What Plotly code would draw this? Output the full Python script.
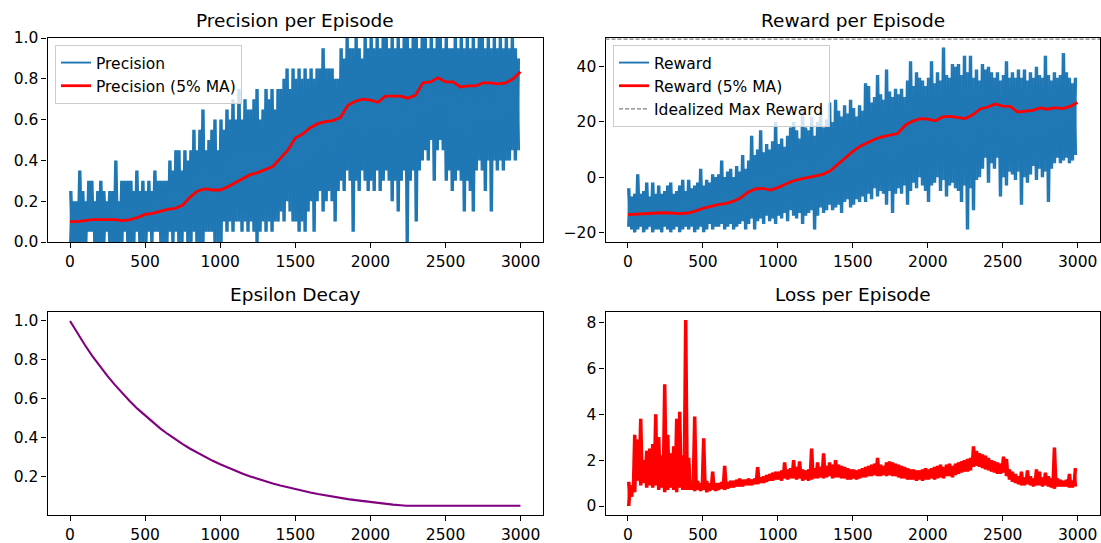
import numpy as np
import plotly.graph_objects as go

# ---------------- data ----------------
BIN = 20  # episodes per bin; each bin gives the low and high value seen in it

precision_lo = [
    0.0, 0.0, 0.0, 0.0, 0.0, 0.0, 0.05, 0.05, 0.0, 0.0,
    0.0, 0.0, 0.05, 0.0, 0.0, 0.0, 0.0, 0.0, 0.05, 0.0,
    0.0, 0.0, 0.05, 0.0, 0.0, 0.0, 0.05, 0.0, 0.05, 0.05,
    0.0, 0.0, 0.0, 0.05, 0.0, 0.05, 0.0, 0.0, 0.05, 0.0,
    0.0, 0.05, 0.0, 0.0, 0.0, 0.05, 0.05, 0.05, 0.0, 0.0,
    0.0, 0.1, 0.05, 0.1, 0.05, 0.1, 0.1, 0.05, 0.1, 0.05,
    0.1, 0.05, 0.0, 0.05, 0.1, 0.05, 0.1, 0.05, 0.1, 0.1,
    0.15, 0.1, 0.2, 0.15, 0.1, 0.1, 0.05, 0.1, 0.05, 0.15,
    0.2, 0.05, 0.2, 0.25, 0.15, 0.2, 0.25, 0.2, 0.1, 0.25,
    0.3, 0.25, 0.35, 0.3, 0.05, 0.3, 0.25, 0.35, 0.3, 0.25,
    0.3, 0.25, 0.35, 0.25, 0.3, 0.35, 0.3, 0.2, 0.3, 0.15,
    0.3, 0.35, 0.0, 0.3, 0.35, 0.1, 0.35, 0.4, 0.45, 0.4,
    0.5, 0.3, 0.45, 0.5, 0.45, 0.3, 0.35, 0.25, 0.3, 0.35,
    0.3, 0.15, 0.3, 0.25, 0.15, 0.35, 0.4, 0.35, 0.25, 0.4,
    0.15, 0.4, 0.35, 0.4, 0.35, 0.4, 0.4, 0.45, 0.4, 0.45,
]
precision_hi = [
    0.25, 0.2, 0.2, 0.35, 0.25, 0.2, 0.3, 0.3, 0.2, 0.25,
    0.3, 0.25, 0.2, 0.25, 0.25, 0.4, 0.2, 0.3, 0.3, 0.3,
    0.3, 0.25, 0.35, 0.25, 0.3, 0.25, 0.3, 0.25, 0.35, 0.3,
    0.3, 0.3, 0.3, 0.4, 0.35, 0.45, 0.45, 0.35, 0.45, 0.4,
    0.45, 0.55, 0.45, 0.55, 0.65, 0.45, 0.5, 0.55, 0.6, 0.45,
    0.6, 0.55, 0.65, 0.6, 0.7, 0.6, 0.75, 0.6, 0.7, 0.65,
    0.65, 0.7, 0.75, 0.6, 0.65, 0.75, 0.7, 0.75, 0.65, 0.75,
    0.75, 0.8, 0.85, 0.75, 0.85, 0.8, 0.85, 0.8, 0.85, 0.8,
    0.85, 0.8, 0.85, 0.85, 0.95, 0.85, 0.85, 0.85, 0.8, 0.8,
    0.95, 0.9, 1.0, 0.95, 0.95, 1.0, 0.95, 0.9, 1.0, 0.95,
    1.0, 0.95, 1.0, 0.95, 1.0, 1.0, 0.95, 1.0, 0.95, 1.0,
    0.95, 1.0, 1.0, 0.95, 1.0, 1.0, 0.95, 1.0, 1.0, 0.95,
    1.0, 0.95, 1.0, 1.0, 0.95, 1.0, 0.95, 0.95, 1.0, 0.95,
    1.0, 0.95, 1.0, 0.95, 1.0, 0.95, 1.0, 1.0, 0.95, 1.0,
    0.95, 1.0, 0.95, 1.0, 0.95, 1.0, 0.95, 1.0, 0.95, 0.9,
]

reward_lo = [
    -18, -19, -20, -19, -18, -20, -19, -18, -20, -19,
    -19, -20, -18, -19, -20, -19, -18, -20, -19, -18,
    -19, -18, -20, -19, -18, -20, -19, -17, -19, -18,
    -18, -17, -19, -18, -17, -19, -18, -17, -16, -19,
    -17, -15, -19, -16, -15, -17, -14, -16, -15, -17,
    -14, -15, -13, -16, -12, -14, -15, -13, -17, -14,
    -13, -12, -19, -14, -11, -13, -12, -10, -12, -11,
    -10, -13, -9, -8, -11, -10, -8, -9, -7, -9,
    -6, -8, -4, -7, -5, -6, -10, -5, -13, -6,
    -4, -6, -3, -10, -5, -2, -4, 0, -3, -5,
    -9, -3, -2, 0, -5, -1, -7, -3, -2, -4,
    -5, -9, -3, -19, -4, -12, -1, 0, 3, 7,
    -2, 5, 3, 7, -7, 0, -3, 2, 1, -1,
    2, -10, 0, -2, 1, 4, -1, 3, 0, 2,
    -9, 3, 5, 7, 5, 6, 7, 5, 6, 8,
]
reward_hi = [
    -4, -7, -6, 1, -6, -5, -2, -7, -2, -6,
    -3, -6, -5, -3, -2, -6, -5, -3, -1, -5,
    -1, -4, -3, -2, 3, -3, -1, -2, 1, 0,
    1, 6, 0, 2, 3, 0, 4, 2, 8, 3,
    6, 15, 8, 10, 17, 9, 12, 10, 13, 20,
    12, 14, 11, 15, 18, 20, 17, 14, 24, 18,
    17, 22, 15, 20, 25, 18, 21, 27, 20, 28,
    24, 22, 26, 23, 28, 25, 22, 26, 24, 34,
    33, 27, 29, 37, 30, 28, 39, 31, 29, 32,
    30, 32, 29, 35, 42, 33, 38, 36, 35, 33,
    36, 42, 34, 38, 35, 47, 37, 36, 41, 40,
    41, 37, 44, 38, 44, 36, 39, 35, 41, 39,
    40, 38, 36, 38, 35, 37, 42, 36, 38, 36,
    39, 36, 39, 35, 38, 36, 40, 37, 36, 44,
    37, 35, 38, 36, 37, 45, 38, 36, 34, 36,
]

loss_lo = [
    0.0, 0.4, 0.6, 1.1, 0.9, 1.0, 0.8, 0.9, 0.8, 0.9,
    0.7, 0.8, 0.6, 0.7, 0.8, 0.7, 0.6, 0.8, 0.7, 0.7,
    0.7, 0.7, 0.65, 0.7, 0.65, 0.7, 0.6, 0.65, 0.7, 0.65,
    0.7, 0.75, 0.7, 0.75, 0.8, 0.8, 0.85, 0.85, 0.85, 0.9,
    0.9, 0.9, 0.95, 0.95, 1.0, 1.0, 1.05, 1.1, 1.1, 1.15,
    1.15, 1.1, 1.2, 1.15, 1.2, 1.2, 1.15, 1.2, 1.1, 1.15,
    1.1, 1.15, 1.2, 1.2, 1.25, 1.2, 1.25, 1.3, 1.2, 1.25,
    1.25, 1.2, 1.2, 1.15, 1.15, 1.2, 1.15, 1.2, 1.25, 1.25,
    1.3, 1.3, 1.35, 1.3, 1.3, 1.35, 1.3, 1.35, 1.3, 1.3,
    1.25, 1.2, 1.2, 1.15, 1.15, 1.15, 1.1, 1.15, 1.1, 1.15,
    1.15, 1.2, 1.15, 1.2, 1.25, 1.2, 1.3, 1.3, 1.25, 1.35,
    1.4, 1.45, 1.5, 1.5, 1.55, 1.7, 1.75, 1.7, 1.65, 1.6,
    1.55, 1.5, 1.45, 1.4, 1.4, 1.45, 1.3, 1.15, 1.05, 1.0,
    0.95, 0.9, 0.9, 0.95, 0.9, 0.85, 0.9, 0.9, 0.85, 0.9,
    0.85, 0.8, 0.75, 0.85, 0.85, 0.85, 0.85, 0.8, 0.8, 0.85,
]
loss_hi = [
    1.05, 0.9, 3.1, 2.9, 3.8, 2.0, 2.4, 2.5, 2.7, 4.0,
    3.0, 2.2, 5.3, 3.1, 2.3, 2.6, 3.8, 4.1, 2.2, 8.1,
    2.1, 1.1, 3.9, 1.1, 1.0, 2.95, 1.1, 1.0, 1.5, 1.0,
    1.0, 1.05, 1.75, 1.05, 1.1, 1.1, 1.15, 1.2, 1.15, 1.15,
    1.2, 1.15, 1.2, 1.7, 1.25, 1.3, 1.35, 1.4, 1.45, 1.5,
    1.5, 1.55, 1.9, 1.6, 1.65, 2.0, 1.7, 1.95, 1.6, 1.55,
    1.6, 2.5, 1.65, 1.9, 1.7, 2.3, 1.75, 1.9, 1.8, 2.0,
    1.8, 1.75, 1.7, 1.65, 1.6, 1.6, 1.55, 1.6, 1.65, 1.7,
    1.75, 1.8, 1.85, 2.1, 1.8, 1.75, 1.9, 1.95, 1.9, 1.85,
    1.8, 1.75, 1.7, 1.65, 1.6, 1.6, 1.55, 1.55, 1.6, 1.65,
    1.6, 1.65, 1.7, 1.75, 1.8, 1.7, 1.8, 1.85, 1.75, 1.85,
    1.9, 1.95, 2.0, 2.05, 2.1, 2.6, 2.4, 2.3, 2.25, 2.2,
    2.1, 2.0, 1.95, 1.9, 1.85, 2.15, 2.05, 1.6, 1.5, 1.4,
    1.3, 1.5, 1.25, 1.55, 1.3, 1.2, 1.6, 1.5, 1.25, 1.45,
    1.3, 1.2, 2.55, 1.2, 1.15, 1.1, 1.15, 1.4, 1.1, 1.65,
]

# 5% moving averages, read every 50 episodes
ma_episodes = list(range(0, 3000, 50)) + [2999]
precision_ma = [
    0.10, 0.10, 0.105, 0.11, 0.11, 0.11, 0.11, 0.105, 0.11, 0.12,
    0.135, 0.14, 0.15, 0.16, 0.165, 0.18, 0.22, 0.25, 0.26, 0.255,
    0.255, 0.27, 0.29, 0.31, 0.33, 0.34, 0.355, 0.37, 0.41, 0.45,
    0.51, 0.53, 0.56, 0.58, 0.59, 0.595, 0.61, 0.67, 0.69, 0.70,
    0.695, 0.685, 0.715, 0.715, 0.715, 0.705, 0.72, 0.78, 0.785, 0.805,
    0.785, 0.785, 0.76, 0.765, 0.765, 0.78, 0.78, 0.775, 0.78, 0.80,
    0.835,
]
reward_ma = [
    -13.6, -13.4, -13.2, -13.0, -13.0, -12.9, -13.0, -13.2, -13.0, -12.3,
    -11.3, -10.6, -10.0, -9.6, -8.8, -7.6, -5.5, -4.3, -4.1, -4.7,
    -3.8, -2.6, -1.4, -0.7, -0.1, 0.3, 1.0, 2.3, 4.6, 6.8,
    9.3, 11.2, 12.6, 13.8, 14.7, 15.2, 15.8, 18.8, 20.3, 21.2,
    21.0, 20.4, 21.8, 22.0, 21.7, 21.2, 22.6, 24.7, 25.4, 26.5,
    25.7, 25.6, 23.6, 23.9, 24.2, 25.1, 24.6, 25.2, 24.8, 25.6,
    27.0,
]
MAX_REWARD = 50

epsilon_episodes = list(range(0, 2250, 50)) + [2240, 2999]
epsilon_episodes = sorted(set(epsilon_episodes))
epsilon_values = [
    1.000, 0.935, 0.875, 0.818, 0.765, 0.716, 0.670, 0.626, 0.586, 0.548,
    0.513, 0.479, 0.448, 0.419, 0.392, 0.367, 0.343, 0.321, 0.300, 0.281,
    0.263, 0.246, 0.230, 0.215, 0.201, 0.188, 0.176, 0.165, 0.154, 0.144,
    0.135, 0.126, 0.118, 0.110, 0.103, 0.096, 0.090, 0.084, 0.079, 0.074,
    0.069, 0.065, 0.060, 0.056, 0.053, 0.050, 0.050,
]

x_ticks = [0, 500, 1000, 1500, 2000, 2500, 3000]
prec_ticks = [0.0, 0.2, 0.4, 0.6, 0.8, 1.0]
reward_ticks = [-20, 0, 20, 40]
reward_tick_labels = ["\u221220", "0", "20", "40"]
eps_ticks = [0.2, 0.4, 0.6, 0.8, 1.0]
loss_ticks = [0, 2, 4, 6, 8]

# ---------------- figure ----------------
W, H = 1101, 543
FONT = "DejaVu Sans"
TXT = "#000000"
BLUE = "#1f77b4"
TICK_SIZE = 15.5
TITLE_SIZE = 18.5


def band(lo, hi):
    """Per-bin low/high values, drawn as two crossing zig-zags."""
    start = np.arange(len(lo)) * BIN
    xs = np.column_stack([start, start + BIN / 2]).ravel()
    ys_a = np.column_stack([lo, hi]).ravel()
    ys_b = np.column_stack([hi, lo]).ravel()
    return xs, ys_a, ys_b


def dom_x(a, b):
    return [a / W, b / W]


def dom_y(top, bottom):
    return [1 - bottom / H, 1 - top / H]


boxes = {
    1: (47.5, 543.0, 38.0, 242.0),
    2: (605.5, 1100.0, 38.0, 242.0),
    3: (47.5, 543.0, 311.7, 515.0),
    4: (605.5, 1100.0, 311.7, 515.0),
}

fig = go.Figure()


def add_band(lo, hi, name, color, width, xa, ya, legend=None):
    xs, ya_, yb_ = band(lo, hi)
    fig.add_trace(go.Scatter(x=xs, y=yb_, mode="lines", showlegend=False,
                             line=dict(color=color, width=width),
                             xaxis=xa, yaxis=ya, hoverinfo="skip"))
    kw = dict(name=name, legend=legend) if legend else dict(showlegend=False)
    fig.add_trace(go.Scatter(x=xs, y=ya_, mode="lines",
                             line=dict(color=color, width=width),
                             xaxis=xa, yaxis=ya, **kw))


add_band(precision_lo, precision_hi, "Precision", BLUE, 1.9, "x", "y", "legend")
fig.add_trace(go.Scatter(x=ma_episodes, y=precision_ma, mode="lines",
                         name="Precision (5% MA)",
                         line=dict(color="red", width=2.8),
                         xaxis="x", yaxis="y", legend="legend"))

add_band(reward_lo, reward_hi, "Reward", BLUE, 1.9, "x2", "y2", "legend2")
fig.add_trace(go.Scatter(x=ma_episodes, y=reward_ma, mode="lines",
                         name="Reward (5% MA)",
                         line=dict(color="red", width=2.8),
                         xaxis="x2", yaxis="y2", legend="legend2"))
fig.add_trace(go.Scatter(x=[None], y=[None], mode="lines",
                         name="Idealized Max Reward",
                         line=dict(color="gray", width=1.2, dash="4px,2px"),
                         xaxis="x2", yaxis="y2", legend="legend2"))
fig.add_shape(type="line", xref="x2 domain", x0=0, x1=1,
              yref="y2", y0=MAX_REWARD, y1=MAX_REWARD,
              line=dict(color="gray", width=1.2, dash="4px,2px"))

fig.add_trace(go.Scatter(x=epsilon_episodes, y=epsilon_values, mode="lines",
                         line=dict(color="#800080", width=2.1),
                         xaxis="x3", yaxis="y3", showlegend=False))

add_band(loss_lo, loss_hi, None, "red", 2.0, "x4", "y4")

axis_common = dict(showgrid=False, zeroline=False, showline=True, mirror=True,
                   linecolor="black", linewidth=1.1, ticks="outside", ticklen=5,
                   tickwidth=1.1, tickcolor="black",
                   tickfont=dict(family=FONT, size=TICK_SIZE, color=TXT))

yranges = {1: [0, 1], 2: [-23.5, 50.4], 3: [0.0025, 1.0475], 4: [-0.39, 8.46]}
yticks = {1: (prec_ticks, [f"{v:.1f}" for v in prec_ticks]),
          2: (reward_ticks, reward_tick_labels),
          3: (eps_ticks, [f"{v:.1f}" for v in eps_ticks]),
          4: (loss_ticks, [str(v) for v in loss_ticks])}

layout = dict(width=W, height=H, margin=dict(l=0, r=0, t=0, b=0, pad=0,
                                              autoexpand=False),
              paper_bgcolor="white", plot_bgcolor="white",
              font=dict(family=FONT, color=TXT), showlegend=True)

for i, (x0, x1, yt, yb) in boxes.items():
    sx = "" if i == 1 else str(i)
    layout["xaxis" + sx] = dict(axis_common, domain=dom_x(x0, x1),
                                anchor="y" + sx, range=[-150, 3149],
                                tickvals=x_ticks, automargin=False,
                                ticktext=[str(v) for v in x_ticks])
    tv, tt = yticks[i]
    layout["yaxis" + sx] = dict(axis_common, domain=dom_y(yt, yb),
                                anchor="x" + sx, range=yranges[i],
                                automargin=False,
                                tickvals=tv, ticktext=tt)

legend_common = dict(xanchor="left", yanchor="top",
                     bgcolor="rgba(255,255,255,0.8)", bordercolor="#cccccc",
                     borderwidth=1,
                     font=dict(family=FONT, size=TICK_SIZE, color=TXT),
                     tracegroupgap=0, itemwidth=30)
layout["legend"] = dict(legend_common, x=55 / W, y=1 - 45 / H)
layout["legend2"] = dict(legend_common, x=613 / W, y=1 - 45 / H)

titles = {1: "Precision per Episode", 2: "Reward per Episode",
          3: "Epsilon Decay", 4: "Loss per Episode"}
annotations = []
for i, (x0, x1, yt, yb) in boxes.items():
    annotations.append(dict(text=titles[i], xref="paper", yref="paper",
                            x=(x0 + x1) / 2 / W, y=1 - yt / H,
                            xanchor="center", yanchor="bottom", yshift=5,
                            showarrow=False,
                            font=dict(family=FONT, size=TITLE_SIZE, color=TXT)))
layout["annotations"] = annotations

fig.update_layout(**layout)
fig.write_html(
    "out.html",
    config={"displayModeBar": False},
    post_script=("document.documentElement.style.margin='0';"
                 "document.body.style.margin='0';"
                 "document.body.style.padding='0';"
                 "document.body.style.overflow='hidden';"),
)
